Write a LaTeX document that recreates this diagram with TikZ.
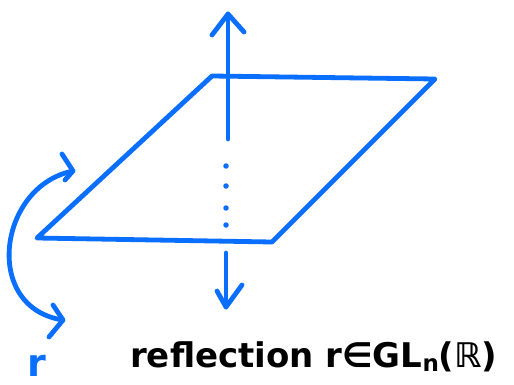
\documentclass[tikz,border=0pt]{standalone}
\usepackage{fontspec}
\setmainfont{DejaVu Sans}
\definecolor{pen}{RGB}{10,110,255}
\begin{document}
\begin{tikzpicture}[x=1pt,y=-1pt,
  stroke/.style={draw=pen,line width=4.8pt,line cap=round,line join=round},
  dotm/.style={circle,fill=pen,inner sep=0pt,minimum size=5.5pt},
  label/.style={font=\bfseries\fontsize{34}{34}\selectfont,inner sep=0pt,anchor=base west}]
\useasboundingbox (0,0) rectangle (514,385);
% plane
\coordinate (tl) at (212,76);
\coordinate (tr) at (435,79);
\coordinate (br) at (272,242);
\coordinate (bl) at (37,238);
\draw[stroke] (tl) -- (tr) -- (br) -- (bl) -- cycle;
% up arrow
\coordinate (ua) at (228,139);
\coordinate (ub) at (228,14);
\draw[stroke] (ua) -- (ub);
\draw[stroke] (212,35) -- (ub) -- (244,32);
% dots
\node[dotm] (d1) at (226,166) {};
\node[dotm] (d2) at (226,186) {};
\node[dotm] (d3) at (226,208) {};
\node[dotm] (d4) at (226,225) {};
% down arrow
\coordinate (da) at (226,253);
\coordinate (db) at (226,307);
\draw[stroke] (da) -- (db);
\draw[stroke] (217,291) -- (db) -- (242,285);
% curved arrow
\coordinate (ca) at (73,171);
\coordinate (cb) at (63,320);
\draw[stroke] (ca) .. controls (-2,186) and (-18,308) .. (cb);
\draw[stroke] (62,154) -- (ca) -- (65,180);
\draw[stroke] (53,305) -- (cb) -- (49,337);
% labels
\node[label,text=pen,font=\bfseries\fontsize{38}{38}\selectfont] (r) at (27,376) {r};
\node[label,text=black] (t) at (130,367) {reflection r∈GL\raisebox{-0.25ex}{\fontsize{23}{23}\selectfont n}(ℝ)};
\end{tikzpicture}
\end{document}
